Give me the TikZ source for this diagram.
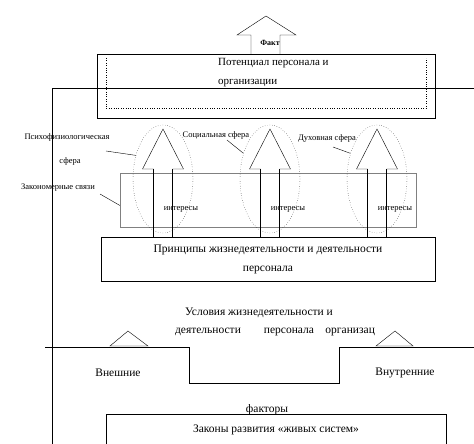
\documentclass[tikz,border=0pt]{standalone}
\usepackage{fontspec}
\setmainfont{Liberation Serif}
\usetikzlibrary{shapes.geometric,calc}

\begin{document}
\begin{tikzpicture}
[ x=1pt, y=-1pt, thin
, block/.style={rectangle, draw, fill=white, inner sep=0pt}
, note/.style={font=\fontsize{8.5}{9}\selectfont, inner sep=0pt}
, caption/.style={font=\fontsize{11.5}{19}\selectfont, inner sep=0pt}
, sphere/.style={ellipse, draw, dotted, minimum width=60pt, minimum height=108pt, inner sep=0pt}
, pointer/.style={draw}
]
\useasboundingbox (0,0) rectangle (474,444);
\clip (0,0) rectangle (474,444);
% Top: potential of the staff
\node (potential) [block, minimum width=338pt, minimum height=64pt] at (266,86) {};
\draw [dotted] (106,58) -- (106,108) -- (426,108) -- (426,58);
\node (potentialtext) [caption, font=\fontsize{11}{19}\selectfont, anchor=west, align=left] at (218,73) {Потенциал персонала и\\организации};
\draw (52,444) -- (52,88) -- (474,88);
\draw (251,54) -- (251,35) -- (237,35) -- (266,16) -- (296,35) -- (280,35) -- (280,54);
\node (fact) [note, font=\fontsize{8}{9}\selectfont\bfseries] at (270,43) {Факт};
% Middle: spheres and interests
\node (links) [rectangle, draw=gray, minimum width=296pt, minimum height=54pt] at (268,200) {};
\node (principles) [block, minimum width=334pt, minimum height=44pt, align=center, caption] at (268,259)
  {Принципы жизнедеятельности и деятельности\\персонала};
\foreach \x/\n in {163/1, 270/2, 377/3} {
  \draw [thick] (\x-9.5,237) -- (\x-9.5,169);
  \draw [thick] (\x+9.5,237) -- (\x+9.5,169);
  \draw (\x-9.5,169) -- (\x-20.5,169) -- (\x,129) -- (\x+20.5,169) -- (\x+9.5,169);
  \node (sph\n) [sphere] at (\x,179) {};
  \node (int\n) [note] at (\x+18,209) {интересы};
}
\node (psy) [note] at (67,137) {Психофизиологическая};
\node (psy2) [note] at (70,161) {сфера};
\node (soc) [note] at (216,135) {Социальная сфера};
\node (spi) [note] at (327,138) {Духовная сфера};
\node (pat) [note] at (58,188) {Закономерные связи};
\coordinate (psyend) at (106,151);
\coordinate (socend) at (227,140);
\coordinate (spiend) at (333,147);
\coordinate (patend) at (100,194);
\draw [pointer] (psyend) -- (sph1.139);
\draw [pointer] (socend) -- (sph2.136);
\draw [pointer] (spiend) -- (sph3.136);
\draw [pointer] (patend) -- ($(links.north west)!0.6!(links.south west)$);
% Bottom: conditions and factors
\node (cond1) [caption] at (259,313) {Условия жизнедеятельности и};
\node (cond2) [caption] at (275,332) {деятельности\hspace{2em}персонала\hspace{1em}организац};
\draw (45,347) -- (189,347) -- (189,383) -- (339,383) -- (339,347) -- (474,347);
\draw (110,346) -- (128,331) -- (148,346) -- cycle;
\draw (376,346) -- (395,331) -- (413,346) -- cycle;
\node (outer) [caption] at (118,373) {Внешние};
\node (inner) [caption] at (405,373) {Внутренние};
\node (factors) [caption] at (267,410) {факторы};
\node (laws) [block, minimum width=340pt, minimum height=32pt, caption] at (276,430) {Законы развития «живых систем»};
\end{tikzpicture}
\end{document}
